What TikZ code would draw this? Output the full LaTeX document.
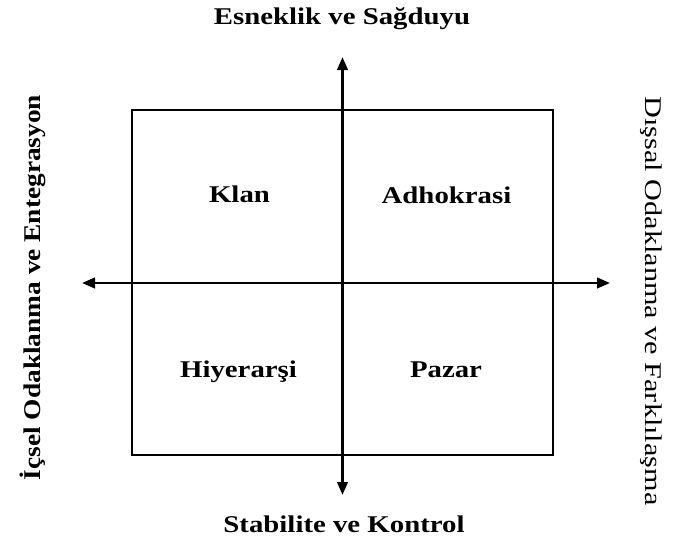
\documentclass[tikz,border=0pt]{standalone}
\usepackage{fontspec}
\setmainfont{Liberation Serif}
\usetikzlibrary{arrows.meta}
\newcommand{\sx}[1]{\scalebox{1.2}[1]{#1}}
\tikzset{
  lbl/.style={font=\fontsize{24}{28}\selectfont\bfseries, inner sep=0pt, anchor=base},
  vlbl/.style={font=\fontsize{24}{28}\selectfont, inner sep=0pt},
  ax/.style={line width=2.6pt, -{Triangle[length=13pt,width=10.5pt]}},
  frame/.style={draw, line width=2.6pt}
}
\begin{document}
\begin{tikzpicture}[x=1pt,y=-1pt]
\useasboundingbox (0,0) rectangle (673,542);
\node[frame, minimum width=421pt, minimum height=345pt, inner sep=0pt] (box) at (342.5,282.5) {};
\coordinate (c) at (342.5,283);
\coordinate (t) at (342.5,57);
\coordinate (b) at (342.5,495);
\coordinate (l) at (82,283);
\coordinate (r) at (610,283);
\draw[ax] (c) -- (t);
\draw[ax] (c) -- (b);
\draw[ax] (c) -- (l);
\draw[ax] (c) -- (r);
\node[lbl] (top) at (342,24) {\sx{Esneklik ve Sağduyu}};
\node[lbl] (bot) at (344,532) {\sx{Stabilite ve Kontrol}};
\node[lbl] (klan) at (239.5,202) {\sx{Klan}};
\node[lbl] (adh) at (446.5,203) {\sx{Adhokrasi}};
\node[lbl] (hiy) at (238.5,377) {\sx{Hiyerarşi}};
\node[lbl] (paz) at (446,377) {\sx{Pazar}};
\node[lbl, rotate=90, anchor=base] (left) at (40,287.5) {\scalebox{1.14}[1]{İçsel Odaklanma ve Entegrasyon}};
\node[vlbl, rotate=-90, anchor=base] (right) at (645,301) {\scalebox{1.26}[1]{Dışsal Odaklanma ve Farklılaşma}};
\end{tikzpicture}
\end{document}
